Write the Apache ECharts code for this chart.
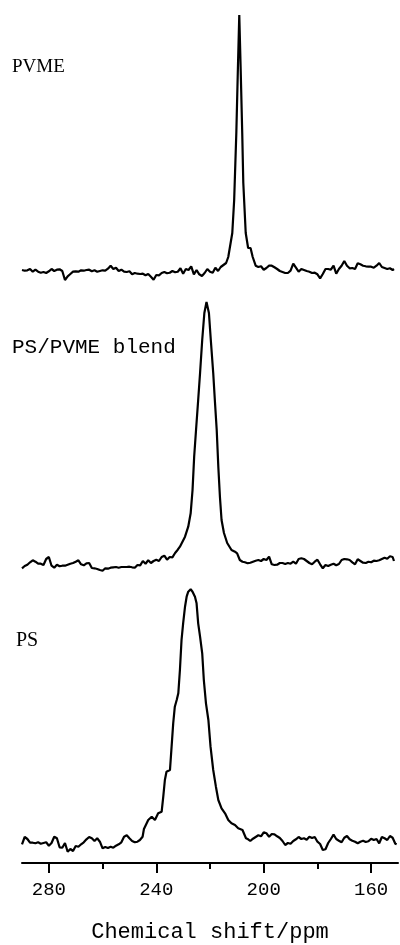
<!DOCTYPE html>
<html>
<head>
<meta charset="utf-8">
<script src="https://cdn.jsdelivr.net/npm/echarts@6/dist/echarts.min.js"></script>
<style>
  html, body { margin: 0; padding: 0; background: #fff; }
  #chart { width: 400px; height: 945px; }
</style>
</head>
<body>
<div id="chart"></div>
<script>
// chemical shift (ppm) and intensity (arb. units)
var pvmeShift = [290,289,288,287,286,285,284,283,282,281,280,279,278,277,276,275,274,273,272,271,270,269,268,267,266,265,264,263,262,261,260,259,258,257,256,255,254,253,252,251,250,249,248,247,246,245,244,243,242,241,240,239,238,237,236,235,234,233,232,231,230,229,228,227,226,225,224,223,222,221,220,219,218,217,216,215,214,213.2,211.7,211.0,210.2,209.6,209.1,208.6,208.0,207.6,206.7,205.8,204.9,204.1,203,202,201,200,199,198,197,196,195,194,193,192,191,190,189,188,187,186,185,184,183,182,181,180,179,178,177,176,175,174,173,172,171,170,169,168,167,166,165,164,163,162,161,160,159,158,157,156,155,154,153,152,151.5];
var pvmeInt = [0,-0.7,-0.3,1,-1.7,0.3,-1.7,-2.7,-2,-3,-1.3,1,-1,0.3,0.7,-1,-10,-6.3,-4,-1.7,-1.3,-1.7,-0.3,-0.7,0,0.3,-1.3,-0.3,-1.7,-1,-0.3,-0.7,1.3,4.3,1,2.3,-1,0.3,-1.7,-2,-1.3,-4.3,-3,-3.7,-4,-3.7,-5.3,-4,-6.7,-9.7,-5,-5.3,-3,-2,-3.3,-2.7,-1,-2.3,-1.7,1.7,-3.7,1,0,3.7,-4.3,0,-4.3,-6,-3,1,-1.7,-2.7,2.3,-1,3,5,7,13,37,70,137,203,255,203,137,87,37,22,22,13,4.3,3,3.7,0.3,2,4.3,4.3,2.7,1,-1,-2,-3,-3,-0.7,6.3,2.3,-1.7,1,0,-1,-1.7,-3,-2.7,-4.3,-8.3,-4,1,1,0.3,4.3,-3.7,1,4.3,9,4.3,1.7,2,1,6.7,5.7,4.3,3.7,3.3,3.3,2.3,4.3,7,3,2,1,1.7,0,1];

var blendShift = [290,289,288,287,286,285,284,283,282,281,280,279,278,277,276,275,274,273,272,271,270,269,268,267,266,265,264,263,262,261,260,259,258,257,256,255,254,253,252,251,250,249,248,247,246,245,244,243,242,241,240,239,238,237,236,235,234,233,232,231.2,229.3,228.1,227.2,226.5,225.9,225.2,224.4,223.7,222.9,222.1,221.3,220.4,219.7,218.8,218.2,217.5,216.9,216.3,215.7,214.8,213.6,212.0,210.7,209.9,208.9,207.9,207,206,205,204,203,202,201,200,199,198,197,196,195,194,193,192,191,190,189,188,187,186,185,184,183,182,181,180,179,178,177,176,175,174,173,172,171,170,169,168,167,166,165,164,163,162,161,160,159,158,157,156,155,154,153,152,151.5];
var blendInt = [-3.3,-1,0.3,2.7,4.7,3.3,1.3,1.3,0,6,8,-0.7,-2.7,0.3,-1.3,-0.7,-0.7,0.3,1.3,2,3.3,4.7,0.7,-0.3,1.7,2,-3,-3.3,-4,-5,-5.7,-3.3,-3.7,-2.7,-2.3,-2,-2.7,-2,-2,-2,-1.7,-2.3,-2.7,0,-0.3,4,1.3,4.7,2,4,5.3,4,8,9.3,5.3,8,7.7,12,15.3,18.3,28.3,38.3,51.7,75,108,135,165,192,225,252,263,252,225,192,165,135,98,68,45,32,22,15,13.3,11.7,5,3.3,2.7,1.7,2.3,3.3,4.3,5,4,6,5,8.3,0.7,0,0.3,2,2,1,2,1.3,3.3,1.3,6,6.7,6,4,2,0.7,3.3,5.3,0.7,-3.3,0,-1,0.3,1.3,-0.3,1,5,6,5.7,5,2.7,0.7,5.7,4,2.3,2,3.3,2.7,4.3,4,4.7,6,7.3,6.3,8.7,8,4];

var psShift = [290,289,288,287,286,285,284,283,282,281,280,279,278,277,276,275,274,273,272,271,270,269,268,267,266,265,264,263,262,261,260,259,258,257,256,255,254,253,252,251,250,249,248,247,246.1,245.1,244.6,243.0,241.7,240.5,239.3,238.0,237.4,236.8,236.2,234.9,234.3,233.7,233.1,232.4,231.8,231.2,230.6,230.0,229.3,228.7,228.1,227.2,226.5,225.6,225.0,224.4,223.7,222.9,222.3,221.5,220.6,219.8,218.8,217.8,216.9,215.7,214.4,213.2,212.0,210.7,209.5,207.9,206.6,205.8,205,204,203,202,201,200,199,198,197,196,195,194,193,192,191,190,189,188,187,186,185,184,183,182,181,180,179,178,177,176,175,174,173,172,171,170,169,168,167,166,165,164,163,162,161,160,159,158,157,156,155,154,153,152,151,150.5];
var psInt = [-1.3,6,4,0.3,0.3,-0.3,0.7,-0.7,0,0.7,-2.7,0,6.3,4.7,-4.3,-4.7,0,-8.7,-6,-8,-3,-3.7,-1.3,0.7,3.7,6,4.7,2,4.7,1.3,-5.3,-4,-5,-3.7,-4.7,-2.7,-1.3,0.7,6.3,7.7,4.7,2,0.7,1.3,3,6.3,14,23,26.3,23,29.7,31.3,46.3,63,71.3,73,96.3,119.7,136.3,143,149.7,173,203,219.7,236.3,246.3,251.3,253.7,251.3,246.3,239.7,219.7,206.3,189.7,163,139.7,123,96.3,73,56.3,43,34.7,29.7,23,19.7,18,14.7,13,4.7,3.7,2,4.3,6,7.7,6.7,10.7,9.7,6.3,9,8.7,6.7,5,2,-2,0,-0.7,2,3.7,6,4,4.7,3.3,6.3,5,6,1.3,-1,-7,-6.3,0,4,8.3,4,2.3,0.7,5.3,7,3.7,2.3,1.3,-0.3,1.3,2.3,1,1.7,4.3,3,4,-0.3,6,4.7,3,7,5.3,-0.7,-1.3];

var majorTicks = [280, 240, 200, 160];
var minorTicks = [260, 220, 180];
var traceNames = ['PVME', 'PS/PVME blend', 'PS'];

function pairs(xs, ys) {
  var out = [];
  for (var i = 0; i < xs.length; i++) out.push([xs[i], ys[i]]);
  return out;
}

var chart = echarts.init(document.getElementById('chart'));

// baselines of the three traces sit at y = 270, 565, 843 px
var gridTops = [0, 295, 573];
var grids = gridTops.map(function (t) {
  return { left: 22, right: 2, top: t, height: 290, outerBoundsMode: 'none' };
});

var hiddenX = function (i) {
  return { type: 'value', gridIndex: i, min: 150, max: 290, inverse: true, show: false };
};

var option = {
  animation: false,
  backgroundColor: '#fff',
  grid: grids,
  xAxis: [
    hiddenX(0),
    hiddenX(1),
    {
      type: 'value', gridIndex: 2, position: 'bottom', min: 150, max: 290, inverse: true,
      name: 'Chemical shift/ppm', nameLocation: 'middle', nameGap: 58,
      nameTextStyle: { fontFamily: 'Liberation Mono', fontSize: 22, color: '#000' },
      axisLine: { onZero: false, lineStyle: { color: '#000', width: 2 } },
      axisTick: { inside: false, length: 10, customValues: majorTicks, lineStyle: { color: '#000', width: 2 } },
      axisLabel: { customValues: majorTicks, margin: 17, fontFamily: 'Liberation Mono', fontSize: 19, color: '#000' },
      splitLine: { show: false }
    },
    {
      type: 'value', gridIndex: 2, position: 'bottom', offset: 0, min: 150, max: 290, inverse: true,
      axisLine: { show: false, onZero: false },
      axisTick: { length: 6, customValues: minorTicks, lineStyle: { color: '#000', width: 2 } },
      axisLabel: { show: false },
      splitLine: { show: false }
    }
  ],
  yAxis: [0, 1, 2].map(function (i) {
    return { type: 'value', gridIndex: i, min: -20, max: 270, show: false };
  }),
  graphic: [
    { type: 'text', left: 12, top: 58, style: { text: traceNames[0], font: '19px "Liberation Serif"', fill: '#000' } },
    { type: 'text', left: 12, top: 337, style: { text: traceNames[1], font: '21px "Liberation Mono"', fill: '#000' } },
    { type: 'text', left: 16, top: 631, style: { text: traceNames[2], font: '20px "Liberation Serif"', fill: '#000' } }
  ],
  series: [
    [pvmeShift, pvmeInt],
    [blendShift, blendInt],
    [psShift, psInt]
  ].map(function (d, i) {
    return {
      name: traceNames[i],
      type: 'line',
      xAxisIndex: i,
      yAxisIndex: i,
      data: pairs(d[0], d[1]),
      showSymbol: false,
      clip: false,
      lineStyle: { color: '#000', width: 2.2 }
    };
  })
};

chart.setOption(option);
</script>
</body>
</html>
